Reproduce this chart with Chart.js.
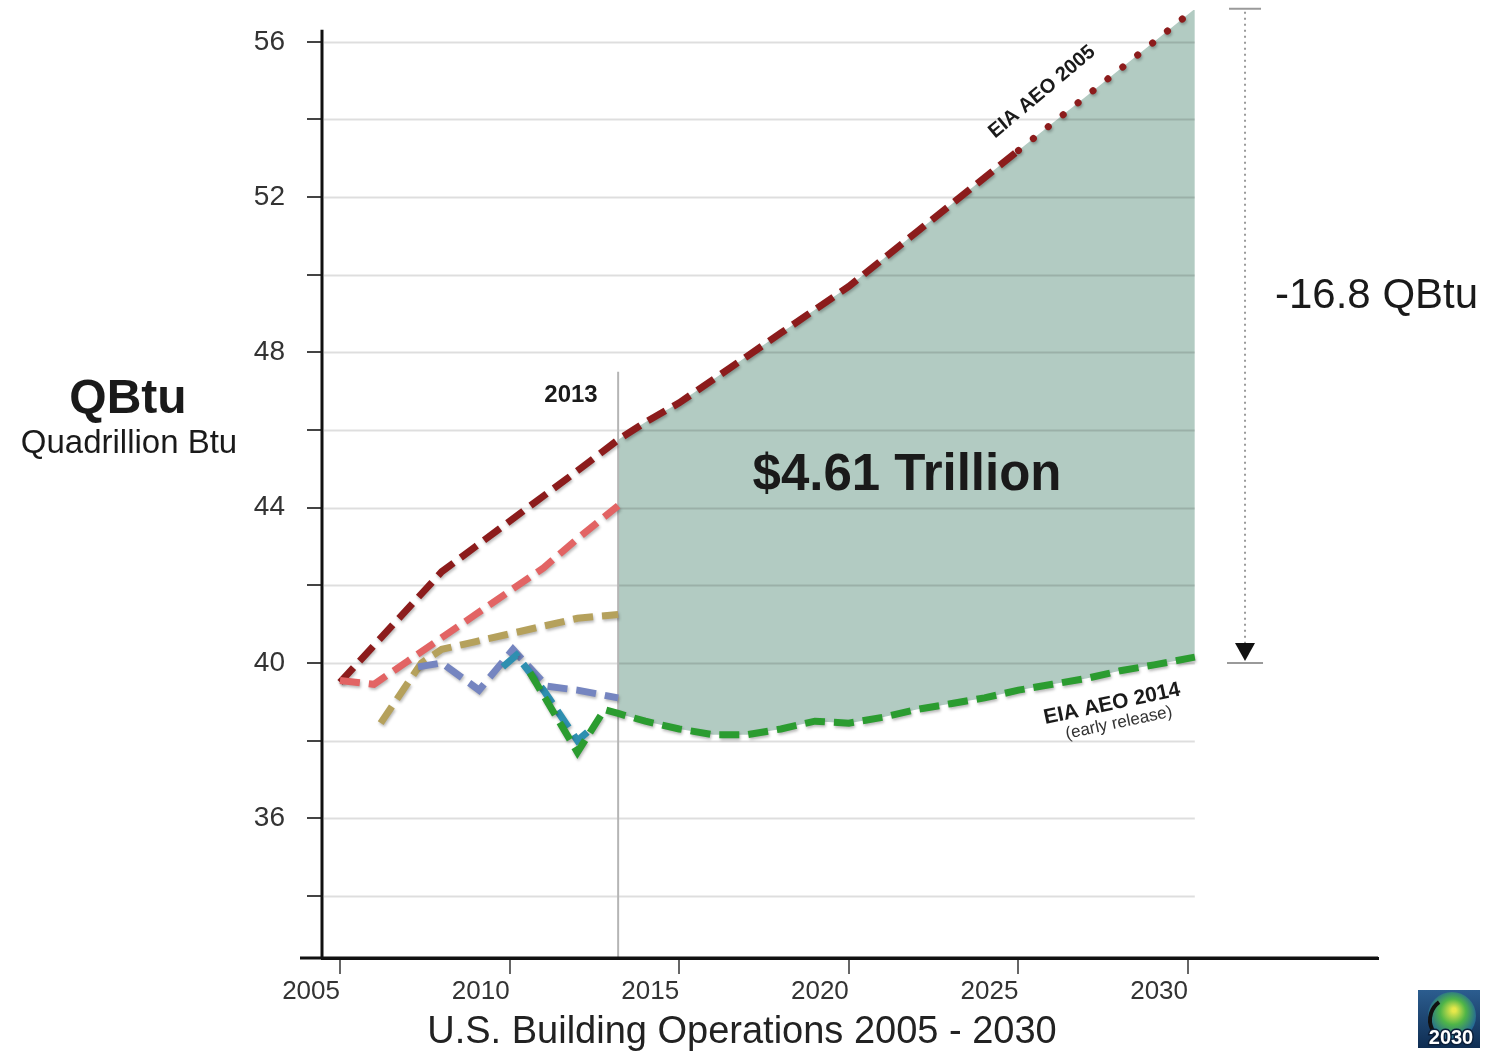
<!DOCTYPE html>
<html>
<head>
<meta charset="utf-8">
<script src="https://cdn.jsdelivr.net/npm/chart.js@4.4.1/dist/chart.umd.min.js"></script>
<style>
  html, body { margin: 0; padding: 0; background: #fff; }
  #wrap { width: 1488px; height: 1051px; position: relative; }
</style>
</head>
<body>
<div id="wrap"><canvas id="chart"></canvas></div>
<script>
// EIA AEO 2005 projection (dark red)
const aeo2005Years = [2005, 2006, 2007, 2008, 2009, 2010, 2011, 2012, 2013.2, 2014, 2015, 2016, 2017, 2018, 2019, 2020, 2021, 2022, 2023, 2024, 2025, 2026, 2027, 2028, 2029, 2030.2];
const aeo2005Values = [39.5, 40.45, 41.4, 42.35, 43.0, 43.65, 44.3, 44.95, 45.75, 46.2, 46.7, 47.3, 47.9, 48.5, 49.1, 49.7, 50.4, 51.1, 51.8, 52.5, 53.2, 53.9, 54.6, 55.3, 56.0, 56.85];

// later outlooks, 2005 - 2013
const salmonYears = [2005, 2006, 2007, 2008, 2009, 2010, 2011, 2012, 2013.2];
const salmonValues = [39.55, 39.45, 40.05, 40.65, 41.25, 41.85, 42.45, 43.2, 44.05];

const tanYears = [2006.2, 2007.4, 2008, 2009, 2010, 2011, 2012, 2013.2];
const tanValues = [38.45, 40.0, 40.35, 40.55, 40.75, 40.95, 41.15, 41.25];

const blueYears = [2007.3, 2008, 2009.1, 2010.1, 2011.1, 2012, 2013.2];
const blueValues = [39.9, 40.0, 39.3, 40.35, 39.4, 39.3, 39.1];

const tealYears = [2009.8, 2010.2, 2011, 2012, 2012.4];
const tealValues = [39.9, 40.2, 39.3, 38.0, 38.3];

// EIA AEO 2014 early release (green)
const aeo2014Years = [2010.6, 2012.0, 2012.8, 2013.2, 2014, 2015, 2016, 2017, 2018, 2019, 2020, 2021, 2022, 2023, 2024, 2025, 2026, 2027, 2028, 2029, 2030.2];
const aeo2014Values = [39.75, 37.7, 38.8, 38.7, 38.5, 38.3, 38.15, 38.15, 38.3, 38.5, 38.45, 38.6, 38.8, 38.95, 39.1, 39.3, 39.45, 39.6, 39.8, 39.95, 40.15];

const splitYear = 2013.2;
const xTickValues = [2005, 2010, 2015, 2020, 2025, 2030];
const yGridValues = [34, 36, 38, 40, 42, 44, 46, 48, 50, 52, 54, 56];
const yTickLabels = [36, 40, 44, 48, 52, 56];
const yAxisTop = 56.31;

const FONT = "'Liberation Sans', Arial, sans-serif";

function toPoints(xs, ys) {
  return xs.map((x, i) => ({ x: x, y: ys[i] }));
}

function fromYear(xs, ys, start) {
  return toPoints(xs, ys).filter((p) => p.x >= start);
}

function dashed(color) {
  return {
    borderColor: color,
    borderWidth: 7,
    borderDash: [20, 9],
    borderCapStyle: "butt",
    pointRadius: 0,
    fill: false,
    tension: 0,
    clip: false,
  };
}

function drawText(ctx, str, x, y, font, opts) {
  opts = opts || {};
  ctx.save();
  ctx.font = font;
  ctx.fillStyle = opts.color || "#1a1a1a";
  ctx.textAlign = opts.align || "center";
  ctx.textBaseline = opts.baseline || "alphabetic";
  ctx.translate(x, y);
  if (opts.angle) ctx.rotate((opts.angle * Math.PI) / 180);
  ctx.fillText(str, 0, 0);
  ctx.restore();
}

// soft drop shadow under the dashed lines
const shadowPlugin = {
  id: "shadow",
  beforeDatasetDraw(chart, args) {
    if (args.index > 5) return;
    const c = chart.ctx;
    c.save();
    c.shadowColor = "rgba(0,0,0,0.28)";
    c.shadowBlur = 3;
    c.shadowOffsetX = 1;
    c.shadowOffsetY = 2;
  },
  afterDatasetDraw(chart, args) {
    if (args.index > 5) return;
    chart.ctx.restore();
  },
};

const backdropPlugin = {
  id: "backdrop",
  beforeDatasetsDraw(chart) {
    const ctx = chart.ctx;
    const xs = chart.scales.x;
    const ys = chart.scales.y;
    ctx.save();
    ctx.strokeStyle = "rgba(0,0,0,0.13)";
    ctx.lineWidth = 2;
    const right = xs.getPixelForValue(2030.2);
    yGridValues.forEach((v) => {
      const y = Math.round(ys.getPixelForValue(v)) + 0.5;
      ctx.beginPath();
      ctx.moveTo(xs.left + 2, y);
      ctx.lineTo(right, y);
      ctx.stroke();
    });
    // 2013 marker
    const sx = xs.getPixelForValue(splitYear);
    ctx.strokeStyle = "#b5b5b5";
    ctx.lineWidth = 2;
    ctx.beginPath();
    ctx.moveTo(sx, ys.getPixelForValue(47.5));
    ctx.lineTo(sx, ys.bottom);
    ctx.stroke();
    ctx.restore();
  },
  afterDraw(chart) {
    const ctx = chart.ctx;
    const xs = chart.scales.x;
    const ys = chart.scales.y;

    // axis lines: y axis stops below the top of the plot, x axis runs past the y axis
    ctx.save();
    ctx.strokeStyle = "#111";
    ctx.lineWidth = 3;
    ctx.beginPath();
    ctx.moveTo(xs.left, ys.getPixelForValue(yAxisTop));
    ctx.lineTo(xs.left, ys.bottom);
    ctx.moveTo(xs.left - 22, ys.bottom);
    ctx.lineTo(xs.right, ys.bottom);
    ctx.stroke();
    ctx.restore();

    // gap arrow
    const ax = xs.getPixelForValue(2031.68);
    const top = ys.getPixelForValue(56.85);
    const bot = ys.getPixelForValue(40);
    ctx.save();
    ctx.strokeStyle = "#9a9a9a";
    ctx.lineWidth = 2;
    ctx.beginPath();
    ctx.moveTo(ax - 16, top);
    ctx.lineTo(ax + 16, top);
    ctx.moveTo(ax - 18, bot);
    ctx.lineTo(ax + 18, bot);
    ctx.stroke();
    ctx.setLineDash([2, 4]);
    ctx.beginPath();
    ctx.moveTo(ax, top + 3);
    ctx.lineTo(ax, bot - 18);
    ctx.stroke();
    ctx.setLineDash([]);
    ctx.fillStyle = "#111";
    ctx.beginPath();
    ctx.moveTo(ax - 10, bot - 20);
    ctx.lineTo(ax + 10, bot - 20);
    ctx.lineTo(ax, bot - 2);
    ctx.closePath();
    ctx.fill();
    ctx.restore();

    drawText(ctx, "QBtu", 128, 413, "bold 48px " + FONT);
    drawText(ctx, "Quadrillion Btu", 129, 453, "33px " + FONT);
    drawText(ctx, "2013", 571, 402, "bold 24px " + FONT);
    drawText(ctx, "$4.61 Trillion", 907, 490, "bold 51px " + FONT);
    drawText(ctx, "-16.8 QBtu", 1275, 308, "42px " + FONT, { align: "left" });
    drawText(ctx, "EIA AEO 2005", 1042, 92, "bold 20px " + FONT, { angle: -40, baseline: "middle" });
    drawText(ctx, "EIA AEO 2014", 1112, 704, "bold 21px " + FONT, { angle: -12, baseline: "middle" });
    drawText(ctx, "(early release)", 1119, 723, "17px " + FONT, { angle: -12, baseline: "middle", color: "#333" });
    drawText(ctx, "U.S. Building Operations 2005 - 2030", 742, 1043, "38px " + FONT, { color: "#222" });

    // small 2030 logo, bottom right
    const lx = 1418, ly = 990, lw = 62, lh = 58;
    ctx.save();
    const bg = ctx.createLinearGradient(lx, ly, lx, ly + lh);
    bg.addColorStop(0, "#2c5d8f");
    bg.addColorStop(1, "#0f2d52");
    ctx.fillStyle = bg;
    ctx.fillRect(lx, ly, lw, lh);
    const globe = ctx.createRadialGradient(lx + 36, ly + 20, 2, lx + 34, ly + 24, 26);
    globe.addColorStop(0, "#e6e84a");
    globe.addColorStop(0.45, "#4fb548");
    globe.addColorStop(1, "#1f5f9e");
    ctx.fillStyle = globe;
    ctx.beginPath();
    ctx.arc(lx + 34, ly + 26, 24, 0, Math.PI * 2);
    ctx.fill();
    ctx.strokeStyle = "#111";
    ctx.lineWidth = 4;
    ctx.beginPath();
    ctx.arc(lx + 34, ly + 30, 22, Math.PI * 0.6, Math.PI * 1.3);
    ctx.stroke();
    ctx.font = "bold 20px " + FONT;
    ctx.textAlign = "center";
    ctx.lineWidth = 3;
    ctx.strokeStyle = "#0b1f3a";
    ctx.strokeText("2030", lx + 33, ly + 54);
    ctx.fillStyle = "#fff";
    ctx.fillText("2030", lx + 33, ly + 54);
    ctx.restore();
  },
};

const ctx = document.getElementById("chart").getContext("2d");
const chart = new Chart(ctx, {
  type: "line",
  data: {
    datasets: [
      { label: "EIA AEO 2014", data: toPoints(aeo2014Years, aeo2014Values), ...dashed("#2b9c30") },
      { label: "Teal", data: toPoints(tealYears, tealValues), ...dashed("#2e8fb0") },
      { label: "Blue", data: toPoints(blueYears, blueValues), ...dashed("#7585c0") },
      { label: "Tan", data: toPoints(tanYears, tanValues), ...dashed("#b5a15c") },
      { label: "Salmon", data: toPoints(salmonYears, salmonValues), ...dashed("#e26464") },
      {
        label: "EIA AEO 2005",
        data: toPoints(aeo2005Years, aeo2005Values),
        ...dashed("#8c1c1c"),
        segment: {
          borderDash: (c) => (c.p0.parsed.x >= 2025 ? [0.1, 19] : undefined),
          borderCapStyle: (c) => (c.p0.parsed.x >= 2025 ? "round" : undefined),
        },
      },
      {
        label: "gap",
        data: fromYear(aeo2005Years, aeo2005Values, splitYear),
        borderColor: "rgba(0,0,0,0)",
        borderWidth: 1,
        pointRadius: 0,
        backgroundColor: "#b2cbc2",
        fill: { target: 7 },
      },
      {
        label: "gapBase",
        data: fromYear(aeo2014Years, aeo2014Values, splitYear),
        borderColor: "rgba(0,0,0,0)",
        borderWidth: 1,
        pointRadius: 0,
        fill: false,
      },
    ],
  },
  options: {
    responsive: true,
    maintainAspectRatio: false,
    animation: false,
    layout: { padding: { left: 0, right: 110, top: 10, bottom: 0 } },
    plugins: {
      legend: { display: false },
      tooltip: { enabled: false },
      filler: { drawTime: "beforeDatasetsDraw" },
    },
    scales: {
      x: {
        type: "linear",
        min: 2004.47,
        max: 2035.6,
        afterFit: (s) => { s.height = 93; },
        afterBuildTicks: (s) => { s.ticks = xTickValues.map((v) => ({ value: v })); },
        border: { color: "#111", width: 3 },
        grid: { drawOnChartArea: false, tickLength: 16, color: "#666", lineWidth: 2 },
        ticks: {
          align: "end",
          padding: 2,
          color: "#333",
          font: { family: FONT, size: 26 },
          callback: (v) => String(v),
        },
      },
      y: {
        type: "linear",
        min: 32.4,
        max: 56.82,
        afterFit: (s) => { s.width = 322; s.paddingTop = 0; s.paddingBottom = 0; },
        afterBuildTicks: (s) => { s.ticks = yGridValues.map((v) => ({ value: v })); },
        border: { display: false },
        grid: { drawOnChartArea: false, tickLength: 15, color: "#444", lineWidth: 2 },
        ticks: {
          padding: 22,
          color: "#333",
          font: { family: FONT, size: 28, lineHeight: 0.4 },
          callback: (v) => (yTickLabels.includes(Math.round(v)) ? String(Math.round(v)) : ""),
        },
      },
    },
  },
  plugins: [shadowPlugin, backdropPlugin],
});
</script>
</body>
</html>
